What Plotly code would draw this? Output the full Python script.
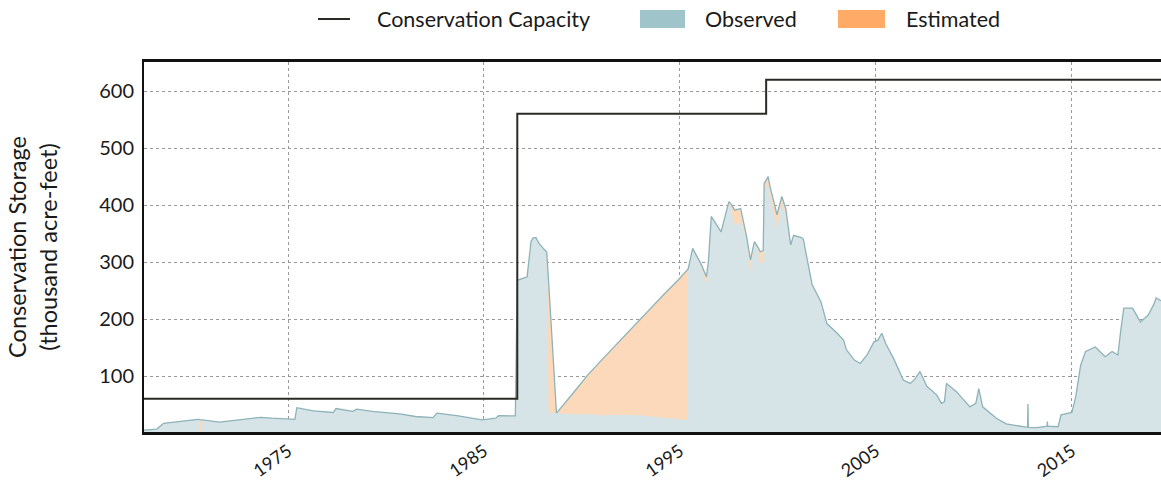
import plotly.graph_objects as go

# ---- data (decimal years, thousand acre-feet) ----
years = [1967.65, 1968.3, 1968.65, 1969.5, 1970.4, 1970.47, 1970.5, 1970.6, 1970.63,
         1971.5, 1972.5, 1973.6, 1974.2, 1975.35, 1975.45, 1976.3, 1977.3, 1977.45,
         1978.3, 1978.5, 1979.3, 1980.7, 1981.5, 1982.4, 1982.6, 1983.7, 1984.9,
         1985.6, 1985.75, 1986.6, 1986.7, 1987.2, 1987.4, 1987.5, 1987.65, 1987.8,
         1988.1, 1988.2, 1988.3, 1988.7, 1989.5, 1990.3, 1991.0, 1991.8, 1992.9,
         1993.5, 1994.2, 1994.9, 1995.38, 1995.42, 1995.65, 1995.9, 1996.1, 1996.35,
         1996.45, 1996.6, 1997.1, 1997.3, 1997.5, 1997.6, 1997.8, 1998.1, 1998.3,
         1998.4, 1998.6, 1998.8, 1999.0, 1999.1, 1999.25, 1999.3, 1999.5, 1999.6,
         1999.8, 1999.95, 2000.2, 2000.4, 2000.65, 2000.8, 2001.2, 2001.3, 2001.5,
         2001.75, 2002.2, 2002.5, 2003.0, 2003.35, 2003.5, 2003.9, 2004.2, 2004.55,
         2004.9, 2005.1, 2005.3, 2005.5, 2005.9, 2006.4, 2006.75, 2007.0, 2007.25,
         2007.6, 2008.1, 2008.35, 2008.5, 2008.6, 2009.1, 2009.8, 2010.1, 2010.25,
         2010.45, 2011.15, 2011.65, 2012.3, 2012.74, 2012.76, 2012.78, 2013.2,
         2013.74, 2013.75, 2013.77, 2014.3, 2014.45, 2015.0, 2015.2, 2015.45,
         2015.7, 2016.2, 2016.7, 2017.05, 2017.35, 2017.5, 2017.65, 2018.1, 2018.5,
         2018.9, 2019.2, 2019.3, 2019.55]

total = [5, 7, 17, 21, 24, 24, 23, 23, 23,
         19, 23, 27.6, 26, 24, 44.5, 39, 36, 43,
         38, 42, 38, 33.5, 29, 27, 35, 30, 23,
         26, 30.5, 30, 268, 274, 336, 342, 343, 333,
         321, 318, 265, 35, 68, 102, 128, 157, 198,
         220, 244, 268, 285, 288, 324, 309, 295, 274,
         300, 380, 353, 380, 406, 402, 391, 394, 360,
         345, 304, 336, 325, 318, 320, 438, 450, 432,
         405, 383, 415, 394, 330, 347, 343, 340, 304,
         260, 230, 192, 176, 163, 146, 128, 122, 137,
         160, 163, 175, 157, 131, 93, 87, 95, 108,
         82, 67, 52, 55, 87, 73, 46, 52, 78,
         46, 26, 16, 12.5, 10, 51, 10, 9.6,
         12, 20, 12, 11, 32, 36, 64, 119,
         143, 151, 134, 143, 137, 181, 219, 219, 195,
         207, 227, 237, 232]

observed = [5, 7, 17, 21, 24, 24, 0, 0, 23,
            19, 23, 27.6, 26, 24, 44.5, 39, 36, 43,
            38, 42, 38, 33.5, 29, 27, 35, 30, 23,
            26, 30.5, 30, 268, 274, 336, 342, 343, 333,
            321, 318, 36, 35, 33, 33, 31, 32, 31,
            29, 27, 25, 23, 288, 324, 309, 290, 262,
            300, 380, 353, 380, 406, 395, 365, 370, 350,
            345, 285, 336, 320, 298, 300, 425, 435, 415,
            385, 360, 405, 380, 330, 347, 343, 340, 304,
            260, 230, 192, 176, 163, 146, 128, 122, 137,
            160, 163, 175, 157, 131, 93, 87, 95, 108,
            82, 67, 52, 55, 87, 73, 46, 52, 78,
            46, 26, 16, 12.5, 10, 51, 10, 9.6,
            12, 20, 12, 11, 32, 36, 64, 119,
            143, 151, 134, 143, 137, 181, 219, 219, 195,
            207, 227, 237, 232]

cap_years = [1967.65, 1986.7, 1999.4, 2019.55]
cap_values = [60, 560, 620, 620]

tick_years = [1975, 1985, 1995, 2005, 2015]
tick_labels = ["1975", "1985", "1995", "2005", "2015"]
y_ticks = [100, 200, 300, 400, 500, 600]

FONT = "Lato, Open Sans, sans-serif"
TEAL_FILL = "#d6e4e7"
TEAL_LINE = "#8db3b9"
ORANGE_FILL = "#fdd9bb"

fig = go.Figure()
fig.add_trace(go.Scatter(x=years, y=total, mode="lines", fill="tozeroy",
                         fillcolor=ORANGE_FILL, line=dict(width=0),
                         showlegend=False, hoverinfo="skip"))
fig.add_trace(go.Scatter(x=years, y=observed, mode="lines", fill="tozeroy",
                         fillcolor=TEAL_FILL, line=dict(width=0),
                         showlegend=False, hoverinfo="skip"))
fig.add_trace(go.Scatter(x=years, y=total, mode="lines",
                         line=dict(color=TEAL_LINE, width=1.3),
                         showlegend=False))
fig.add_trace(go.Scatter(x=cap_years, y=cap_values, mode="lines",
                         line=dict(color="#2b2b26", width=2, shape="hv"),
                         showlegend=False))

W, H = 1161, 480
L, R, T, B = 144, 0, 62, 48
pw, ph = W - L - R, H - T - B


def px(x):
    return (x - L) / pw


def py(y):
    return (H - B - y) / ph


shapes = [
    dict(type="line", xref="paper", yref="paper", x0=px(318), x1=px(350),
         y0=py(19), y1=py(19), line=dict(color="#2b2b26", width=2)),
    dict(type="rect", xref="paper", yref="paper", x0=px(640), x1=px(685),
         y0=py(28), y1=py(10), line=dict(width=0), fillcolor="#9fc5cb"),
    dict(type="rect", xref="paper", yref="paper", x0=px(838), x1=px(885),
         y0=py(28), y1=py(10), line=dict(width=0), fillcolor="#ffaa66"),
]
annotations = [
    dict(text=t, xref="paper", yref="paper", x=px(xx), y=py(19), xanchor="left",
         yanchor="middle", showarrow=False, font=dict(family=FONT, size=21.5, color="#1a1a1a"))
    for t, xx in [("Conservation Capacity", 375), ("Observed", 703), ("Estimated", 904)]
]

fig.update_layout(
    width=W, height=H,
    margin=dict(l=L, r=R, t=T, b=B, autoexpand=False),
    plot_bgcolor="white", paper_bgcolor="white",
    font=dict(family=FONT, size=19, color="#1a1a1a"),
    showlegend=False,
    shapes=shapes, annotations=annotations,
    xaxis=dict(range=[1967.65, 2019.55], tickvals=tick_years, ticktext=tick_labels,
               tickangle=-35, showgrid=True, gridcolor="#999", griddash="dot",
               gridwidth=1, showline=True, linecolor="#111", linewidth=2.5,
               mirror=True, ticks="", zeroline=False, tickfont=dict(size=18),
               automargin=False, ticklabelstandoff=-1),
    yaxis=dict(range=[1.8, 651], tickvals=y_ticks, showgrid=True, gridcolor="#999",
               griddash="dot", gridwidth=1, showline=True, linecolor="#111",
               linewidth=2, ticks="", zeroline=False, tickfont=dict(size=20),
               automargin=False, ticklabelstandoff=4,
               title=dict(text="Conservation Storage<br>(thousand acre-feet)",
                          font=dict(size=23.5), standoff=35)),
)

fig.write_html("out.html", config={"displayModeBar": False},
               post_script="document.body.style.margin='0';"
                           "document.body.style.overflow='hidden';")
